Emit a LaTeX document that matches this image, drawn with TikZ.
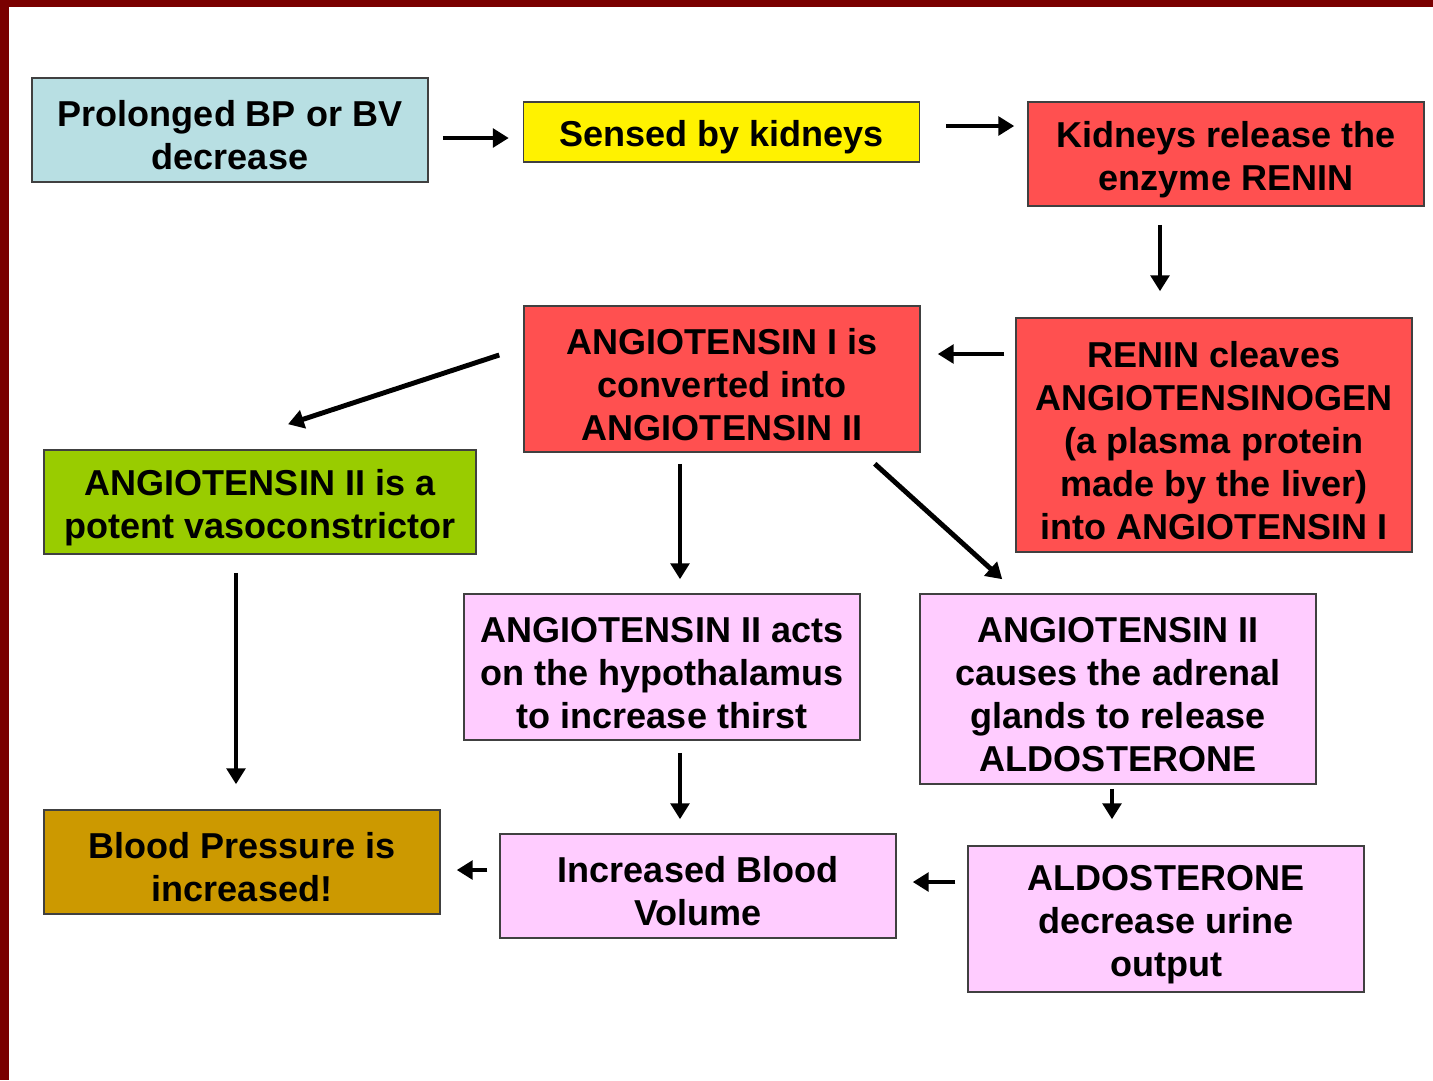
\documentclass[tikz,border=0pt]{standalone}
\usepackage{fontspec}
\setmainfont{Liberation Sans}
\usetikzlibrary{arrows.meta}
\definecolor{frame}{RGB}{122,0,0}
\definecolor{boxblue}{RGB}{184,223,227}
\definecolor{boxred}{RGB}{255,80,80}
\definecolor{boxgreen}{RGB}{153,204,0}
\definecolor{boxpink}{RGB}{255,204,255}
\definecolor{boxgold}{RGB}{204,153,0}
\definecolor{edge}{RGB}{64,64,64}
\newcommand\boxlift{\rule{0pt}{21pt}}

\begin{document}
\begin{tikzpicture}[x=0.02cm,y=-0.02cm,
  box/.style={draw=edge,line width=0.9pt,minimum width=7.92cm,inner sep=0pt,
    align=center,font=\fontsize{20.5}{24.5}\selectfont\bfseries},
  arr/.style={line width=2.8pt,-{Triangle[length=9pt,width=10.5pt]}}]
 \useasboundingbox (0,0) rectangle (1433,1080);
 \fill [white] (0,0) rectangle (1433,1080);
 \fill [frame] (0,0) rectangle (1433,7);
 \fill [frame] (0,0) rectangle (9,1080);
 % boxes
 \node[box,fill=boxblue,minimum height=2.08cm] (bvdrop) at (230,130)
  {\boxlift Prolonged BP or BV\\decrease};
 \node[box,fill=yellow,minimum height=1.2cm] (sensed) at (721.5,132)
  {\boxlift Sensed by kidneys};
 \node[box,fill=boxred,minimum height=2.08cm] (renin) at (1226,154)
  {\boxlift Kidneys release the\\enzyme RENIN};
 \node[box,fill=boxred,minimum height=4.68cm] (cleave) at (1214,435)
  {\boxlift RENIN cleaves\\ANGIOTENSINOGEN\\(a plasma protein\\made by the liver)\\into ANGIOTENSIN I};
 \node[box,fill=boxred,minimum height=2.92cm] (convert) at (722,379)
  {\boxlift ANGIOTENSIN I is\\converted into\\ANGIOTENSIN II};
 \node[box,fill=boxgreen,minimum height=2.08cm,minimum width=8.64cm] (vaso) at (260,502)
  {\boxlift ANGIOTENSIN II is a\\potent vasoconstrictor};
 \node[box,fill=boxpink,minimum height=2.92cm] (thirst) at (662,667)
  {\boxlift ANGIOTENSIN II acts\\on the hypothalamus\\to increase thirst};
 \node[box,fill=boxpink,minimum height=3.8cm] (adrenal) at (1118,689)
  {\boxlift ANGIOTENSIN II\\causes the adrenal\\glands to release\\ALDOSTERONE};
 \node[box,fill=boxgold,minimum height=2.08cm] (bpup) at (242,862)
  {\boxlift Blood Pressure is\\increased!};
 \node[box,fill=boxpink,minimum height=2.08cm] (volume) at (698,886)
  {\boxlift Increased Blood\\Volume};
 \node[box,fill=boxpink,minimum height=2.92cm] (urine) at (1166,919)
  {\boxlift ALDOSTERONE\\decrease urine\\output};
 % arrows
 \draw[arr] ([shift={(14,8)}]bvdrop.east) -- ([shift={(-14,6)}]sensed.west);
 \draw[arr] ([shift={(26,-6)}]sensed.east) -- ([shift={(-13,-28)}]renin.west);
 \draw[arr] ([shift={(-66,18)}]renin.south) -- ([shift={(-54,-26)}]cleave.north);
 \draw[arr] ([shift={(-11,-81)}]cleave.west) -- ([shift={(17,-25)}]convert.east);
 \draw[arr] ([shift={(-24,-24)}]convert.west) -- ([shift={(28,-25)}]vaso.north);
 \draw[arr] ([shift={(-42,11)}]convert.south) -- ([shift={(18,-14)}]thirst.north);
 \draw[arr] ([shift={(-46,11)}]convert.south east) -- ([shift={(83,-14)}]adrenal.north west);
 \draw[arr] ([shift={(-24,18)}]vaso.south) -- ([shift={(-6,-25)}]bpup.north);
 \draw[arr] ([shift={(18,12)}]thirst.south) -- ([shift={(-18,-14)}]volume.north);
 \draw[arr] ([shift={(-6,4)}]adrenal.south) -- ([shift={(-54,-26)}]urine.north);
 \draw[arr] ([shift={(-12,-37)}]urine.west) -- ([shift={(16,-4)}]volume.east);
 \draw[arr] ([shift={(-12,-16)}]volume.west) -- ([shift={(16,8)}]bpup.east);
\end{tikzpicture}
\end{document}
